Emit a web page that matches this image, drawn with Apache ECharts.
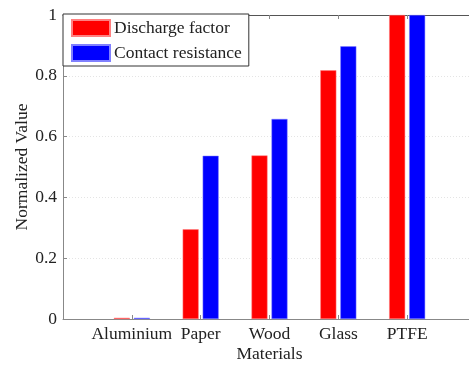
<!DOCTYPE html>
<html>
<head>
<meta charset="utf-8">
<script src="https://cdn.jsdelivr.net/npm/echarts@6/dist/echarts.min.js"></script>
<style>
    html, body { margin: 0; padding: 0; background: #fff; }
    #chart { width: 469px; height: 365px; }
</style>
</head>
<body>
<div id="chart"></div>
<script>
// padded with empty slots so the axis runs 0..6 like the original plot
const categories = ["", "Aluminium", "Paper", "Wood", "Glass", "PTFE", ""];
const dischargeFactor = [null, 0.004, 0.295, 0.538, 0.818, 1.0, null];
const contactResistance = [null, 0.004, 0.537, 0.658, 0.897, 1.0, null];
const yTicks = [0, 0.2, 0.4, 0.6, 0.8, 1];

const font = "Liberation Serif";
const fs = 17.5;

const chart = echarts.init(document.getElementById("chart"), null, { renderer: "canvas" });

const option = {
    backgroundColor: "#fff",
    animation: false,
    textStyle: { fontFamily: font },
    grid: {
        left: 63,
        width: 413,
        top: 15,
        height: 304,
        outerBoundsMode: "none",
        containLabel: false,
        show: false
    },
    legend: {
        orient: "vertical",
        left: 63,
        top: 14,
        padding: [5, 7, 4, 8],
        itemGap: 7,
        itemWidth: 38,
        itemHeight: 16,
        icon: "rect",
        backgroundColor: "#fff",
        borderColor: "#333",
        borderWidth: 1,
        textStyle: { fontFamily: font, fontSize: fs, lineHeight: 16, color: "#222", padding: [0, 0, 0, -1] },
        data: ["Discharge factor", "Contact resistance"]
    },
    xAxis: [
        {
            type: "category",
            data: categories,
            boundaryGap: false,
            name: "Materials",
            nameLocation: "middle",
            nameGap: 26,
            nameMoveOverlap: false,
            nameTextStyle: { fontFamily: font, fontSize: fs, color: "#222" },
            axisLine: { lineStyle: { color: "#888", width: 1 } },
            axisTick: { inside: true, length: 4, interval: 0, lineStyle: { color: "#888" } },
            axisLabel: { fontFamily: font, fontSize: fs, color: "#222", margin: 6, interval: 0 },
            splitLine: { show: false }
        },
        {
            type: "category",
            data: categories,
            boundaryGap: false,
            position: "top",
            axisLine: { lineStyle: { color: "#555", width: 1 } },
            axisTick: { inside: true, length: 4, interval: 0, lineStyle: { color: "#888" } },
            axisLabel: { show: false },
            splitLine: { show: false }
        }
    ],
    yAxis: {
        type: "value",
        min: 0,
        max: 1,
        interval: 0.2,
        name: "Normalized Value",
        nameLocation: "middle",
        nameGap: 32,
        nameMoveOverlap: false,
        nameTextStyle: { fontFamily: font, fontSize: fs, color: "#222" },
        axisLine: { show: true, lineStyle: { color: "#888", width: 1 } },
        axisTick: { show: true, inside: true, length: 4, lineStyle: { color: "#888" } },
        axisLabel: {
            fontFamily: font,
            fontSize: fs,
            color: "#222",
            margin: 6,
            formatter: v => String(yTicks.find(t => Math.abs(t - v) < 1e-6) ?? v)
        },
        splitLine: { show: true, lineStyle: { color: "#e4e4e4", type: [1, 2], width: 1 } }
    },
    series: [
        {
            name: "Discharge factor",
            type: "bar",
            data: dischargeFactor,
            barWidth: 16,
            barGap: "25%",
            itemStyle: { color: "#ff0000", borderColor: "#ff8080", borderWidth: 0.5 }
        },
        {
            name: "Contact resistance",
            type: "bar",
            data: contactResistance,
            barWidth: 16,
            barGap: "25%",
            itemStyle: { color: "#0000ff", borderColor: "#8080ff", borderWidth: 0.5 }
        }
    ]
};

chart.setOption(option);
</script>
</body>
</html>
